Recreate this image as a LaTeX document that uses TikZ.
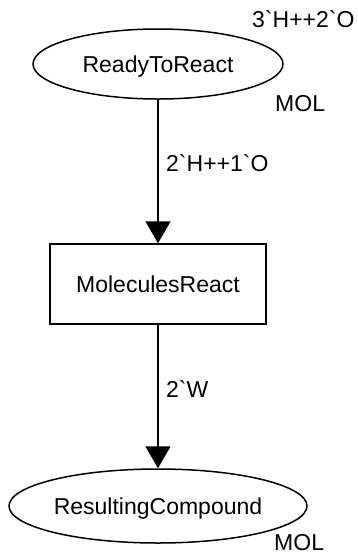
\documentclass[tikz,border=0pt]{standalone}
\usepackage{fontspec}
\newfontfamily\lab{Liberation Sans}
\usetikzlibrary{shapes.geometric,arrows.meta}
\begin{document}
\begin{tikzpicture}[x=1pt,y=-1pt,
  every node/.style={font=\lab\fontsize{23}{27}\selectfont, inner sep=0pt},
  place/.style={ellipse, draw, line width=1.5pt, text height=16.5pt, text depth=0pt},
  trans/.style={rectangle, draw, line width=1.5pt, minimum width=216pt, minimum height=80pt, text height=16.5pt, text depth=0pt},
  arc/.style={line width=1.5pt, -{Triangle[length=22pt,width=25pt]}},
  lbl/.style={anchor=west}]
\useasboundingbox (0,0) rectangle (358,558);
\node[place, minimum width=250pt, minimum height=70pt] (rta) at (158,64) {ReadyToReact};
\node[trans] (mr) at (158,284) {MoleculesReact};
\node[place, minimum width=298pt, minimum height=74pt] (rc) at (158,506) {ResultingCompound};
\draw[arc] (rta) -- (mr);
\draw[arc] (mr) -- (rc);
\node[lbl] (init) at (252,19) {3\symbol{96}H++2\symbol{96}O};
\node[lbl] (mol1) at (275,104) {MOL};
\node[lbl] (a1) at (166,163) {2\symbol{96}H++1\symbol{96}O};
\node[lbl] (a2) at (166,389) {2\symbol{96}W};
\node[lbl] (mol2) at (274,543) {MOL};
\end{tikzpicture}
\end{document}
